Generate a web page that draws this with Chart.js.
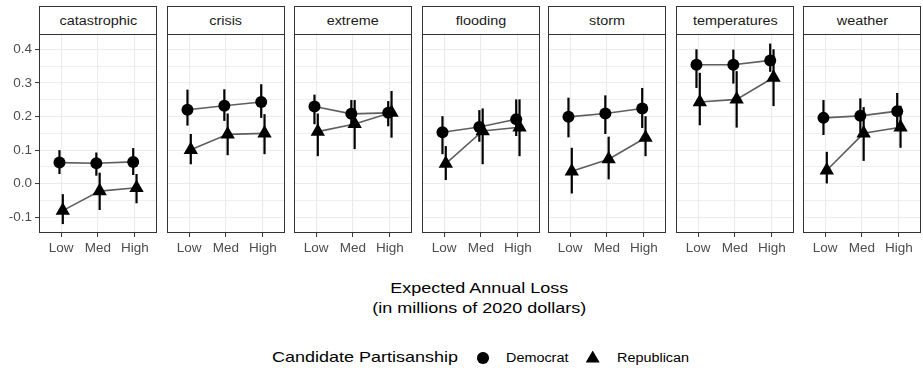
<!DOCTYPE html>
<html>
<head>
<meta charset="utf-8">
<script src="https://cdn.jsdelivr.net/npm/chart.js@4/dist/chart.umd.min.js"></script>
<style>
  html, body { margin: 0; padding: 0; background: #fff; }
  body {
    width: 923px; height: 373px; position: relative; overflow: hidden;
    font-family: "Liberation Sans", Arial, Helvetica, sans-serif;
  }
  .strip {
    position: absolute; top: 6px; width: 118px; height: 29px;
    box-sizing: border-box; border: 1px solid #333; background: #fff;
    color: #1a1a1a; font-size: 12px;
    display: flex; align-items: center; justify-content: center;
  }
  .wide { display: inline-block; transform: scaleX(1.2); white-space: nowrap; }
  canvas { position: absolute; top: 34px; }
  .axis-title {
    position: absolute; left: 39px; width: 881px; top: 278px;
    text-align: center; font-size: 15px; line-height: 20px; color: #000;
  }
  .legend-text { position: absolute; white-space: nowrap; transform-origin: left center; transform: scaleX(1.2); color: #000; }
  .legend-title { left: 271.7px; top: 346.5px; font-size: 15px; line-height: 20px; }
  .legend-label { top: 350.3px; font-size: 12px; line-height: 16px; }
  .key-dot { position: absolute; width: 11.5px; height: 11.5px; border-radius: 50%; background: #000; left: 477px; top: 352.3px; }
  .key-tri { position: absolute; width: 14px; height: 12px; background: #000; left: 585.7px; top: 350.5px;
             clip-path: polygon(50% 0, 100% 100%, 0 100%); }
</style>
</head>
<body>

<div class="axis-title"><span class="wide">Expected Annual Loss<br>(in millions of 2020 dollars)</span></div>

<span class="legend-text legend-title">Candidate Partisanship</span>
<div class="key-dot"></div>
<span class="legend-text legend-label" style="left:506px">Democrat</span>
<div class="key-tri"></div>
<span class="legend-text legend-label" style="left:616.7px">Republican</span>

<script>
// Panels (one per word in the ad text) and loss levels on the x axis
const topics = ['catastrophic', 'crisis', 'extreme', 'flooding', 'storm', 'temperatures', 'weather'];
const lossLevels = ['Low', 'Med', 'High'];

// y-axis breaks
const yMajor = [-0.1, 0, 0.1, 0.2, 0.3, 0.4];
const yTickLabels = ['-0.1', '0.0', '0.1', '0.2', '0.3', '0.4'];
const yMinor = [-0.05, 0.05, 0.15, 0.25, 0.35];

// Democrat candidates: estimate and confidence interval, rows follow `topics`, columns `lossLevels`
const demEstimate = [
  [0.063, 0.061, 0.065],
  [0.220, 0.232, 0.243],
  [0.230, 0.208, 0.211],
  [0.153, 0.169, 0.192],
  [0.199, 0.209, 0.224],
  [0.354, 0.354, 0.367],
  [0.196, 0.202, 0.216]
];
const demLower = [
  [0.029, 0.024, 0.026],
  [0.173, 0.187, 0.196],
  [0.177, 0.167, 0.171],
  [0.088, 0.125, 0.142],
  [0.138, 0.148, 0.166],
  [0.285, 0.298, 0.333],
  [0.145, 0.153, 0.166]
];
const demUpper = [
  [0.100, 0.093, 0.106],
  [0.280, 0.281, 0.296],
  [0.265, 0.249, 0.246],
  [0.201, 0.219, 0.251],
  [0.256, 0.263, 0.285],
  [0.400, 0.399, 0.417],
  [0.249, 0.254, 0.270]
];

// Republican candidates
const repEstimate = [
  [-0.080, -0.022, -0.012],
  [0.101, 0.147, 0.150],
  [0.155, 0.178, 0.212],
  [0.060, 0.157, 0.168],
  [0.037, 0.073, 0.137],
  [0.243, 0.251, 0.316],
  [0.040, 0.150, 0.168]
];
const repLower = [
  [-0.120, -0.078, -0.058],
  [0.058, 0.085, 0.088],
  [0.082, 0.103, 0.137],
  [0.011, 0.058, 0.082],
  [-0.029, 0.013, 0.082],
  [0.174, 0.167, 0.231],
  [0.001, 0.068, 0.107]
];
const repUpper = [
  [-0.031, 0.033, 0.029],
  [0.148, 0.209, 0.207],
  [0.209, 0.249, 0.276],
  [0.112, 0.224, 0.251],
  [0.107, 0.140, 0.201],
  [0.330, 0.335, 0.400],
  [0.095, 0.228, 0.232]
];

// Layout of the small multiples
const panelLeft = [39, 167, 294, 422, 548, 676, 803];
const PANEL_W = 118;       // includes both border pixels
const AXIS_GUTTER = 39;    // room for y labels on the first panel
const X_AXIS_H = 31;
const PLOT_H = 199;
const DODGE = 0.045;       // small horizontal offset between parties

const FONT = '"Liberation Sans", Arial, Helvetica, sans-serif';
Chart.defaults.font.family = FONT;

const isMajor = v => yMajor.some(m => Math.abs(m - v) < 1e-9);
const noPadding = s => { s.paddingTop = s.paddingBottom = s.paddingLeft = s.paddingRight = 0; };

// Vertical interval lines, drawn just under each party's markers
const errorBars = {
  id: 'errorBars',
  beforeDatasetDraw(chart, args) {
    const ds = chart.data.datasets[args.index];
    if (!ds.lower) return;
    const { ctx, scales: { x, y } } = chart;
    ctx.save();
    ctx.strokeStyle = '#000';
    ctx.lineWidth = 2.2;
    ctx.lineCap = 'butt';
    ds.data.forEach((pt, i) => {
      const px = x.getPixelForValue(pt.x);
      ctx.beginPath();
      ctx.moveTo(px, y.getPixelForValue(ds.lower[i]));
      ctx.lineTo(px, y.getPixelForValue(ds.upper[i]));
      ctx.stroke();
    });
    ctx.restore();
  }
};

// Panel border
const panelFrame = {
  id: 'panelFrame',
  afterDraw(chart) {
    const { ctx, chartArea: a } = chart;
    ctx.save();
    ctx.strokeStyle = '#333';
    ctx.lineWidth = 1;
    ctx.strokeRect(a.left + 0.5, a.top + 0.5, a.right - a.left - 1, a.bottom - a.top - 1);
    ctx.restore();
  }
};

const points = (vals, shift) => vals.map((v, i) => ({ x: i + 1 + shift, y: v }));

topics.forEach((topic, p) => {
  const first = p === 0;
  const gutter = first ? AXIS_GUTTER : 0;

  const strip = document.createElement('div');
  strip.className = 'strip';
  strip.style.left = panelLeft[p] + 'px';
  strip.innerHTML = '<span class="wide">' + topic + '</span>';
  document.body.appendChild(strip);

  const cv = document.createElement('canvas');
  cv.width = gutter + PANEL_W;
  cv.height = PLOT_H + X_AXIS_H;
  cv.style.left = (panelLeft[p] - gutter) + 'px';
  document.body.appendChild(cv);

  new Chart(cv, {
    type: 'line',
    data: {
      datasets: [
        { label: 'Democrat', data: points(demEstimate[p], -DODGE), borderColor: '#5e5e5e', borderWidth: 1.6,
          pointRadius: 0, fill: false, order: 4 },
        { label: 'Republican', data: points(repEstimate[p], DODGE), borderColor: '#5e5e5e', borderWidth: 1.6,
          pointRadius: 0, fill: false, order: 3 },
        { label: 'Democrat', data: points(demEstimate[p], -DODGE), showLine: false, pointStyle: 'circle',
          pointRadius: 6, pointHoverRadius: 6, pointBackgroundColor: '#000', pointBorderWidth: 0,
          lower: demLower[p], upper: demUpper[p], order: 2 },
        { label: 'Republican', data: points(repEstimate[p], DODGE), showLine: false, pointStyle: 'triangle',
          pointRadius: 8.3, pointHoverRadius: 8.3, pointBackgroundColor: '#000', pointBorderWidth: 0,
          lower: repLower[p], upper: repUpper[p], order: 1 }
      ]
    },
    options: {
      responsive: false,
      animation: false,
      events: [],
      layout: { padding: 0, autoPadding: false },
      plugins: { legend: { display: false }, tooltip: { enabled: false } },
      scales: {
        x: {
          type: 'linear', min: 0.4, max: 3.6,
          afterBuildTicks: s => { s.ticks = lossLevels.map((_, i) => ({ value: i + 1 })); },
          afterFit: s => { s.height = X_AXIS_H; noPadding(s); },
          ticks: { callback: (v, i) => lossLevels[i], color: '#4d4d4d', font: { size: 13.5 },
                   padding: 3, maxRotation: 0, minRotation: 0, autoSkip: false },
          grid: { color: '#ebebeb', lineWidth: 1.1, drawTicks: true, tickLength: 4,
                  tickColor: '#333', tickWidth: 1 },
          border: { display: false }
        },
        y: {
          type: 'linear', min: -0.1465, max: 0.4455,
          afterBuildTicks: s => { s.ticks = yMajor.concat(yMinor).sort((a, b) => a - b).map(v => ({ value: v })); },
          afterFit: s => { s.width = gutter; noPadding(s); },
          ticks: {
            display: first,
            callback: v => { const k = yMajor.findIndex(m => Math.abs(m - v) < 1e-9); return k >= 0 ? yTickLabels[k] : ''; },
            color: '#4d4d4d', font: { size: 13.5 }, padding: 3, autoSkip: false
          },
          grid: {
            color: '#ebebeb',
            lineWidth: c => (c.tick && isMajor(c.tick.value)) ? 1.1 : 0.8,
            drawTicks: first, tickLength: 4, tickWidth: 1,
            tickColor: c => (c.tick && isMajor(c.tick.value)) ? '#333' : 'rgba(0,0,0,0)'
          },
          border: { display: false }
        }
      }
    },
    plugins: [errorBars, panelFrame]
  });
});
</script>
</body>
</html>
